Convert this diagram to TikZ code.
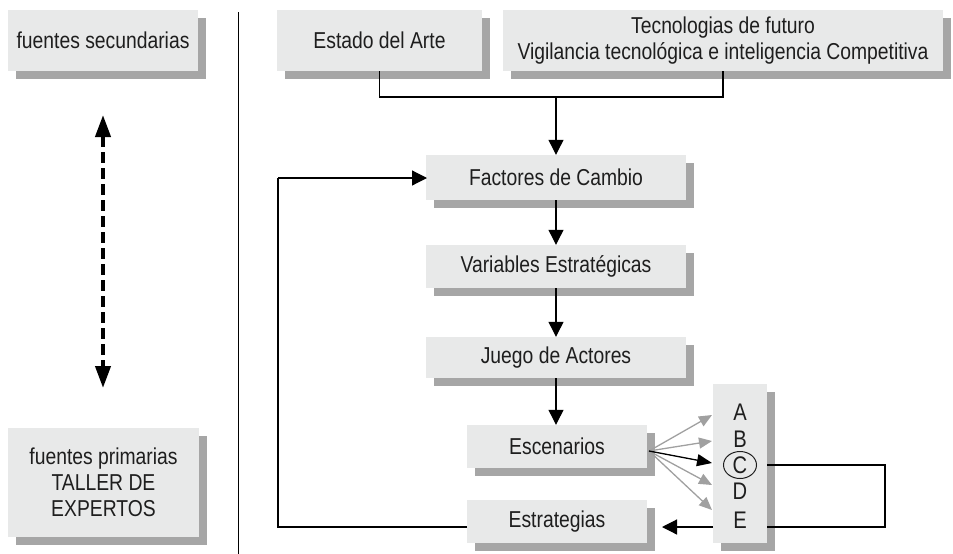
\documentclass[tikz,border=0pt]{standalone}
\usepackage{fontspec}
\setmainfont{Liberation Sans}[FakeStretch=0.84]
\usetikzlibrary{arrows.meta,shadows,shapes.geometric,calc}
\definecolor{boxfill}{HTML}{E8E9E9}
\definecolor{shadowgray}{HTML}{A6A6A6}
\definecolor{fangray}{HTML}{A0A0A0}
\definecolor{txt}{HTML}{1E1E1E}
\begin{document}
\begin{tikzpicture}[x=1pt,y=-1pt,
  gbox/.style={fill=boxfill, draw=none, text=txt, font=\fontsize{23}{26}\selectfont,
    align=center, inner sep=0pt,
    drop shadow={shadow xshift=8pt, shadow yshift=-8pt, fill=shadowgray, opacity=1}},
  conn/.style={line width=1.2pt, black},
  arr/.style={conn, -{Triangle[length=15pt,width=15pt]}},
  fanarr/.style={line width=1.3pt, fangray, -{Triangle[length=13pt,width=11pt]}},
  letter/.style={text=txt, font=\fontsize{24}{24}\selectfont, inner sep=0pt},
  dash2/.style={line width=4pt, black, dash pattern=on 11pt off 5pt,
    {Triangle[length=22pt,width=15pt]}-{Triangle[length=22pt,width=15pt]}}]

\useasboundingbox (0,0) rectangle (953,554);

% left column
\node[gbox, minimum width=190pt, minimum height=61pt] (sec) at (103,40.5) {fuentes secundarias};
\node[gbox, minimum width=191pt, minimum height=109pt] (prim) at (103.5,482.5)
  {fuentes primarias\\TALLER DE\\EXPERTOS};
\coordinate (dtop) at (103,115);
\coordinate (dbot) at (103,388);
\draw[dash2] (dtop) -- (dbot);

% divider
\coordinate (dv1) at (238,12);
\coordinate (dv2) at (238,554);
\draw[line width=1pt] (dv1) -- (dv2);

% top boxes
\node[gbox, minimum width=205pt, minimum height=61pt] (estado) at (379.5,40.5) {Estado del Arte};
\node[gbox, minimum width=440pt, minimum height=61pt] (tec) at (723,40.5)
  {Tecnologias de futuro\\Vigilancia tecnológica e inteligencia Competitiva};

% main column
\node[gbox, minimum width=260pt, minimum height=45pt] (fact) at (556,177.5) {Factores de Cambio};
\node[gbox, minimum width=260pt, minimum height=43pt] (vari) at (556,266.5) {Variables Estratégicas};
\node[gbox, minimum width=260pt, minimum height=41pt] (jueg) at (556,357.5) {Juego de Actores};
\node[gbox, minimum width=180pt, minimum height=43pt] (esce) at (557,446.5) {Escenarios};
\node[gbox, minimum width=180pt, minimum height=43pt] (estr) at (557,521.5) {Estrategias};

% scenario box
\node[gbox, minimum width=54pt, minimum height=159pt] (abc) at (740,463.5) {};
\node[letter] (lA) at (740,412) {A};
\node[letter] (lB) at (740,439) {B};
\node[letter, draw=txt, line width=1pt, ellipse, minimum width=33pt, minimum height=27pt] (lC) at (740,465) {C};
\node[letter] (lD) at (740,491) {D};
\node[letter] (lE) at (740,520) {E};

% top connector
\coordinate (j) at (556,97);
\draw[conn] (estado.south) |- (j) -| (tec.south);
\draw[arr] (j) -- (fact.north);

% column arrows
\draw[arr] (fact.south) -- (vari.north);
\draw[arr] (vari.south) -- (jueg.north);
\draw[arr] (jueg.south) -- ($(esce.north)+(-1,0)$);

% fan
\coordinate (fan) at (649,451);
\coordinate (tA) at (712,415);
\coordinate (tB) at (712,441);
\coordinate (tC) at (712,463);
\coordinate (tD) at (712,485);
\coordinate (tE) at (712,510);
\draw[fanarr] (fan) -- (tA);
\draw[fanarr] (fan) -- (tB);
\draw[fanarr] (fan) -- (tD);
\draw[fanarr] (fan) -- (tE);
\draw[conn, line width=1.3pt, -{Triangle[length=15pt,width=12pt]}] (fan) -- (tC);

% right loop back to Estrategias
\coordinate (rA) at (767,465);
\coordinate (rB) at (885,527);
\coordinate (rC) at (767,527);
\coordinate (rD) at (713,527);
\coordinate (rE) at (662,527);
\draw[conn] (rA) -| (rB) -- (rC);
\draw[arr] (rD) -- (rE);

% feedback loop to Factores
\coordinate (fb0) at (467,527);
\coordinate (fb1) at (278,527);
\coordinate (fb2) at (278,178);
\coordinate (fb3) at (427,178);
\draw[conn] (fb0) -- (fb1) -- (fb2);
\draw[arr] (fb2) -- (fb3);
\end{tikzpicture}
\end{document}
